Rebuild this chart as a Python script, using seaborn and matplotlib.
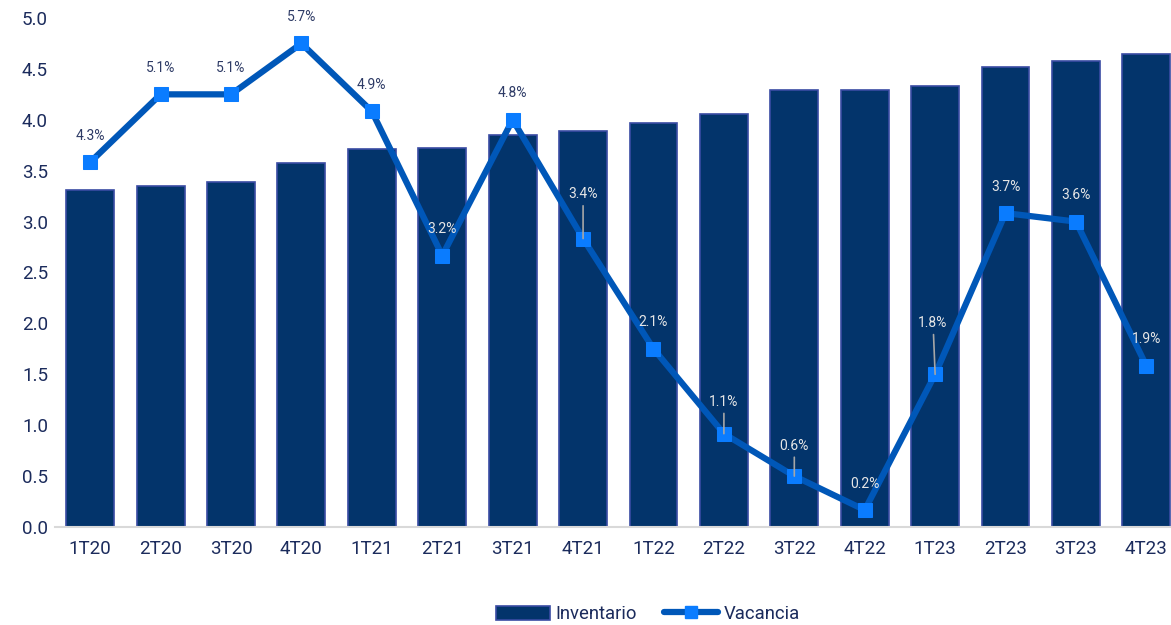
import numpy as np
import pandas as pd
import matplotlib
matplotlib.use("Agg")
import matplotlib.pyplot as plt
from matplotlib.patches import Patch
from matplotlib.lines import Line2D
import seaborn as sns

# Quarterly data
trimestres = ["1T20", "2T20", "3T20", "4T20", "1T21", "2T21", "3T21", "4T21",
              "1T22", "2T22", "3T22", "4T22", "1T23", "2T23", "3T23", "4T23"]
inventario = [3.31, 3.35, 3.39, 3.58, 3.71, 3.72, 3.85, 3.89,
              3.97, 4.06, 4.29, 4.29, 4.33, 4.52, 4.58, 4.65]
vacancia = [4.3, 5.1, 5.1, 5.7, 4.9, 3.2, 4.8, 3.4,
            2.1, 1.1, 0.6, 0.2, 1.8, 3.7, 3.6, 1.9]
# label offsets (points) relative to each marker; larger ones get a leader line
label_dx = [0, 0, 0, 0, 0, 0, 0, 0, 0, 0, 0, 0, -1.5, 0, 0, 0]
label_dy = [19, 19, 19, 19, 19, 19, 19, 32, 19, 23, 22, 19, 37, 19, 19, 19]

sns.set_theme(style="white")
plt.rcParams["font.family"] = ["Roboto", "DejaVu Sans"]

NAVY = "#03346B"
BAR_EDGE = "#3A4BA3"
LINE = "#0057B8"
MARK = "#0A7CFF"
TEXT = "#1B2B5C"

fig = plt.figure(figsize=(11.71, 6.25), dpi=100)
ax = fig.add_axes([55 / 1171, 1 - 527 / 625, 1 - 55 / 1171, (527 - 18) / 625])

df = pd.DataFrame({"Trimestre": trimestres, "Inventario": inventario})
sns.barplot(data=df, x="Trimestre", y="Inventario", ax=ax, color=NAVY,
            saturation=1, width=0.68, edgecolor=BAR_EDGE, linewidth=1.2)

ax.set_ylim(0, 5.0)
ax.set_xlim(-0.5, 15.35)
ax.set_yticks(np.arange(0, 5.01, 0.5))
ax.set_yticklabels([f"{v:.1f}" for v in np.arange(0, 5.01, 0.5)])
ax.set_xlabel("")
ax.set_ylabel("")
ax.tick_params(axis="both", labelsize=13.5, colors=TEXT, length=0)
ax.tick_params(axis="x", pad=9)
ax.tick_params(axis="y", pad=5)
for s in ["top", "right", "left"]:
    ax.spines[s].set_visible(False)
ax.spines["bottom"].set_color("#D9D9D9")
ax.spines["bottom"].set_linewidth(1.5)

ax2 = ax.twinx()
pos = np.arange(len(trimestres))
sns.lineplot(x=pos, y=vacancia, ax=ax2, color=LINE, linewidth=4.5,
             marker="s", markersize=10.5, markerfacecolor=MARK,
             markeredgecolor=MARK, legend=False)
ax2.set_ylim(0, 6.0)
ax2.set_xlim(-0.5, 15.35)
ax2.axis("off")

fig.canvas.draw()
px_per_pt = fig.dpi / 72.0
for i, v in enumerate(vacancia):
    mx, my = ax2.transData.transform((i, v))
    label_px = my + label_dy[i] * px_per_pt
    bar_top_px = ax.transData.transform((i, inventario[i]))[1]
    col = "#E6E6E6" if label_px < bar_top_px else "#2E3B66"
    lead = label_dy[i] > 20
    ax2.annotate(f"{v:.1f}%", xy=(i, v), xytext=(label_dx[i], label_dy[i]),
                 textcoords="offset points", ha="center", va="center",
                 fontsize=10, color=col,
                 arrowprops=dict(arrowstyle="-", color="#A6A6A6", lw=1.2,
                                 shrinkA=1, shrinkB=0) if lead else None)

handles = [Patch(facecolor=NAVY, edgecolor=BAR_EDGE, linewidth=1.2, label="Inventario"),
           Line2D([0], [0], color=LINE, linewidth=4.5, marker="s", markersize=8,
                  markerfacecolor=MARK, markeredgecolor=MARK, label="Vacancia")]
fig.legend(handles=handles, loc="center", bbox_to_anchor=(648 / 1171, 1 - 614 / 625),
           ncol=2, frameon=False, fontsize=13.3, labelcolor=TEXT,
           handlelength=2.9, handletextpad=0.3, columnspacing=1.5, handleheight=0.8)

fig.savefig("out.png", dpi=100)
